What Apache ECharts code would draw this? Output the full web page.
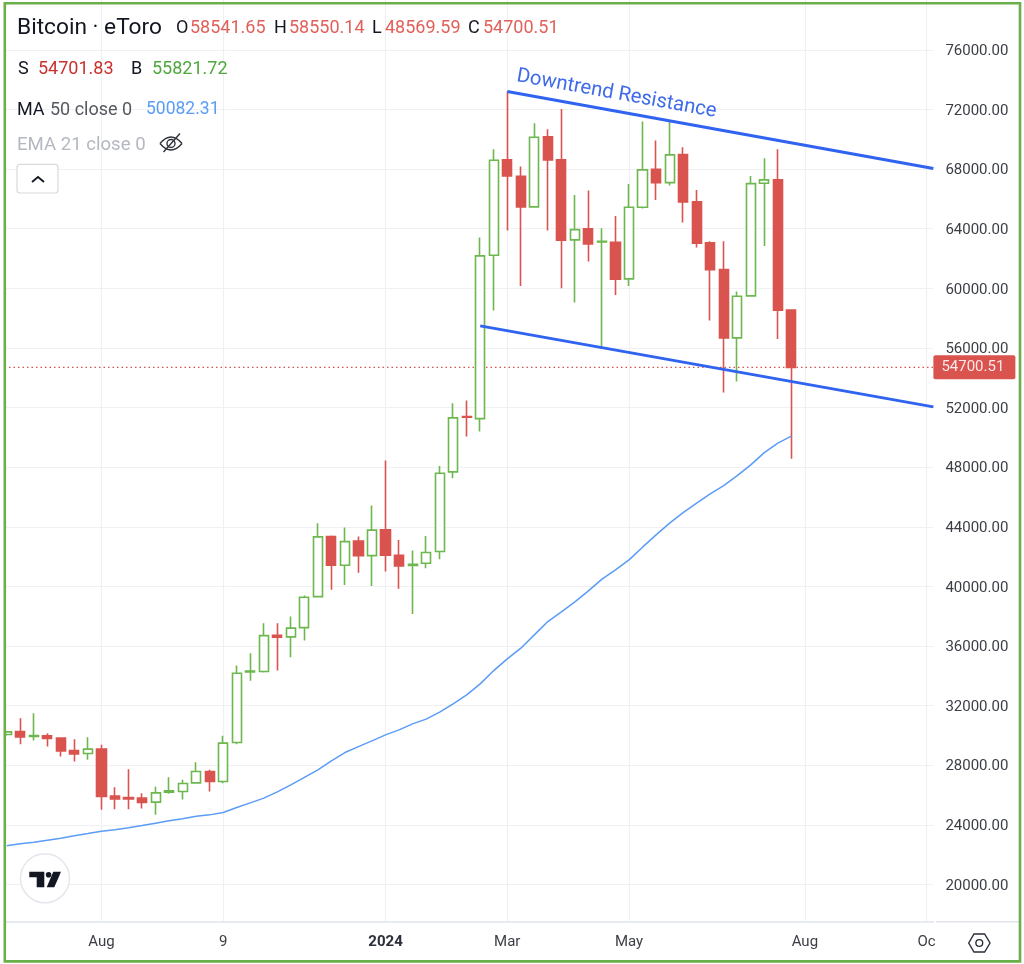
<!DOCTYPE html>
<html>
<head>
<meta charset="utf-8">
<style>html,body{margin:0;padding:0;background:#fff}#c{width:1024px;height:964px}</style>
<script src="https://cdn.jsdelivr.net/npm/echarts@6/dist/echarts.min.js"></script>
</head>
<body>
<div id="c"></div>
<script>
const weeks = ['2023-06-19','2023-06-26','2023-07-03','2023-07-10','2023-07-17','2023-07-24','2023-07-31','2023-08-07','2023-08-14','2023-08-21','2023-08-28','2023-09-04','2023-09-11','2023-09-18','2023-09-25','2023-10-02','2023-10-09','2023-10-16','2023-10-23','2023-10-30','2023-11-06','2023-11-13','2023-11-20','2023-11-27','2023-12-04','2023-12-11','2023-12-18','2023-12-25','2024-01-01','2024-01-08','2024-01-15','2024-01-22','2024-01-29','2024-02-05','2024-02-12','2024-02-19','2024-02-26','2024-03-04','2024-03-11','2024-03-18','2024-03-25','2024-04-01','2024-04-08','2024-04-15','2024-04-22','2024-04-29','2024-05-06','2024-05-13','2024-05-20','2024-05-27','2024-06-03','2024-06-10','2024-06-17','2024-06-24','2024-07-01','2024-07-08','2024-07-15','2024-07-22','2024-07-29','2024-08-05','2024-08-12','2024-08-19','2024-08-26','2024-09-02','2024-09-09','2024-09-16','2024-09-23','2024-09-30','2024-10-07'];
const opens = [30060,30259,29930,29970,29816,28984,28783,29078,25924,25830,25790,25521,26192,26233,26817,27575,26904,29521,34251,34285,36727,36613,37237,39317,43343,41424,43035,42068,43793,42095,41411,41558,42337,47685,51395,51261,62225,68620,67526,65466,70163,68620,63252,63990,63118,63098,60635,65446,67996,67097,68975,65802,63051,61259,56676,59494,67056,67278,58541.65];
const closes = [30240,29903,29990,29789,28964,28762,29078,25897,25743,25743,25495,26146,26280,26770,27575,26904,29480,34177,34318,36700,36593,37197,39277,43323,41424,43008,42068,43773,42095,41377,41478,42270,47597,51308,51355,62178,68600,67546,65466,70143,68620,63232,63943,62983,63165,60615,65446,67949,67097,68955,65802,63030,61259,56676,59474,67030,67278,58535,54700.51];
const lows = [30000,29413,29655,29252,28581,28246,28360,25005,25052,25052,25092,24669,26078,25696,26780,26233,26796,29413,33661,34218,34352,35251,36365,39290,39767,40102,40908,40035,40995,39834,38156,41223,41827,47262,50053,50389,58508,63876,60165,65440,63876,60011,59045,61796,55938,59561,60165,65352,65936,66895,64413,62735,57837,53006,53744,59480,62849,56609,48569.59];
const highs = [30300,31158,31493,30151,29830,29749,29883,29366,26528,27736,26125,26548,27199,27018,28205,27689,29970,34687,35519,37532,37532,37975,39384,44242,43410,43947,43343,45423,48443,43122,42404,43390,48087,52294,52469,63406,69338,73203,68170,71082,70680,72042,66271,66560,64037,64862,67009,71190,69915,71190,69472,66607,63165,63165,59783,67546,68734,69338,58550.14];
const ma50 = [22589,22723,22837,22972,23106,23260,23415,23576,23663,23797,23951,24112,24267,24401,24569,24669,24824,25159,25475,25790,26213,26682,27186,27689,28293,28850,29252,29635,30037,30373,30775,31091,31560,32117,32721,33459,34352,35137,35855,36747,37640,38291,38962,39700,40485,41109,41780,42632,43457,44242,44954,45584,46208,46765,47436,48154,48980,49610,50082.31];
const resistanceLine = [[37,73216],[68.5,68049]];
const supportLine = [[35,57481],[68.5,52046]];
const lastPrice = 54700.51;
const lastPriceLine = [[-0.5,lastPrice],[68.5,lastPrice]];
const priceTicks = [20000,24000,28000,32000,36000,40000,44000,48000,52000,56000,60000,64000,68000,72000,76000];
const timeLabels = {'2023-08-07':'Aug','2023-10-09':'9','2024-01-01':'2024','2024-03-04':'Mar','2024-05-06':'May','2024-08-05':'Aug','2024-10-07':'Oc'};

const RED='#d9534f', GREEN='#6cb84f', BLUE='#5b9cf6', TREND='#2f63f0', INK='#131722', FONT='Roboto, sans-serif';
const isLabelled=(i,v)=>v in timeLabels;
const candles = weeks.slice(0,opens.length).map((w,i)=>[opens[i],closes[i],lows[i],highs[i]]);

function t(text,x,y,size,fill,extra){
  return Object.assign({type:'text',z:100,x:x,y:y,style:{text:text,font:size+'px '+FONT,fill:fill,align:'left',verticalAlign:'middle'}},extra||{});
}
const LRED='#e0605a';
const eye={fill:'none',stroke:'#30333a',lineWidth:1.4};
const chrome = [
  {type:'rect',z:90,shape:{x:0,y:0,width:4,height:964},style:{fill:'#fff'}},
  {type:'rect',z:90,shape:{x:1020,y:0,width:4,height:964},style:{fill:'#fff'}},
  {type:'rect',z:99,shape:{x:4.8,y:3.2,width:1015.2,height:958.2},style:{fill:'none',stroke:'#6ab04a',lineWidth:2.6}},
  {type:'line',z:20,shape:{x1:936,y1:921.7,x2:1019,y2:921.7},style:{stroke:'#e0e3eb',lineWidth:1.6}},
  t('Bitcoin · eToro',17,28,22.7,INK),
  t('O',176,28,18,INK),t('58541.65',190,28,18,LRED),
  t('H',274,28,18,INK),t('58550.14',289,28,18,LRED),
  t('L',372,28,18,INK),t('48569.59',385,28,18,LRED),
  t('C',468,28,18,INK),t('54700.51',483,28,18,LRED),
  t('S',18,69,18,INK),t('54701.83',38,69,18,'#c8322e'),
  t('B',131,69,18,INK),t('55821.72',152,69,18,'#4fa83d'),
  t('MA',17,110,18,INK),t('50 close 0',50,110,18,'#55585f'),t('50082.31',146,110,17.5,BLUE),
  t('EMA 21 close 0',17,145.5,18.6,'#b5b8c0'),
  {type:'bezierCurve',z:100,shape:{x1:160,y1:143.5,x2:182,y2:143.5,cpx1:171,cpy1:130.5},style:eye},
  {type:'bezierCurve',z:100,shape:{x1:160,y1:143.5,x2:182,y2:143.5,cpx1:171,cpy1:156.5},style:eye},
  {type:'circle',z:100,shape:{cx:171,cy:143.5,r:4},style:eye},
  {type:'line',z:100,shape:{x1:163.5,y1:152,x2:180,y2:133.5},style:eye},
  {type:'rect',z:100,shape:{x:17,y:164.3,width:41,height:28.7,r:3},style:{fill:'#fff',stroke:'#d8dade',lineWidth:1.2}},
  {type:'polyline',z:101,shape:{points:[[32,182],[38,177],[44,182]]},style:{fill:'none',stroke:INK,lineWidth:1.8}},
  t('Downtrend Resistance',616.5,94,20.3,'#3f6bea',{rotation:-10.2*Math.PI/180,style:{text:'Downtrend Resistance',font:'20.3px '+FONT,fill:'#3f6bea',align:'center',verticalAlign:'middle'}}),
  {type:'circle',z:100,shape:{cx:45,cy:878.3,r:24.5},style:{fill:'#fff',stroke:'#e6e7ee',lineWidth:1.5}},
  {type:'polygon',z:101,shape:{points:[[29.3,871.7],[44.3,871.7],[44.3,887.3],[36.7,887.3],[36.7,877.3],[29.3,877.3]]},style:{fill:INK}},
  {type:'circle',z:101,shape:{cx:48.6,cy:874.8,r:2.8},style:{fill:INK}},
  {type:'polygon',z:101,shape:{points:[[53.3,871.7],[61,871.7],[54.3,887.3],[46.7,887.3]]},style:{fill:INK}},
  {type:'polygon',z:100,shape:{points:[[968.7,943],[974,934],[984.6,934],[990,943],[984.6,952],[974,952]]},style:{fill:'none',stroke:'#2a2e39',lineWidth:1.4}},
  {type:'circle',z:100,shape:{cx:979.3,cy:943,r:3.4},style:{fill:'none',stroke:'#2a2e39',lineWidth:1.4}}
];

const chart = echarts.init(document.getElementById('c'),null,{renderer:'canvas'});
chart.setOption({
  animation:false,
  backgroundColor:'#fff',
  textStyle:{fontFamily:FONT},
  grid:{left:-1.575,top:0,width:934.95,height:921.7,containLabel:false,show:false},
  xAxis:[
    {type:'category',data:weeks,boundaryGap:true,
     axisLine:{show:true,onZero:false,lineStyle:{color:'#e0e3eb',width:1.6}},
     axisTick:{show:false,alignWithLabel:true,interval:isLabelled},
     splitLine:{show:true,alignWithLabel:true,interval:isLabelled,lineStyle:{color:'#eef0f4',width:1.2}},
     axisLabel:{interval:isLabelled,margin:13,hideOverlap:false,fontFamily:FONT,fontSize:15,color:'#3b3e45',
       formatter:v=>v==='2024-01-01'?'{b|'+timeLabels[v]+'}':(timeLabels[v]||''),
       rich:{b:{fontFamily:FONT,fontSize:15,fontWeight:'bold',color:'#2a2e39'}}}},
    {type:'value',min:-0.5,max:68.5,show:false,splitLine:{show:false}}
  ],
  yAxis:{type:'value',position:'right',min:17500,max:79350,scale:true,
    axisLine:{show:false},
    axisTick:{show:false,customValues:priceTicks},
    splitLine:{show:true,lineStyle:{color:'#f0f1f4',width:1.2}},
    axisLabel:{customValues:priceTicks,margin:12,fontFamily:FONT,fontSize:15,color:'#3b3e45',
      formatter:v=>'{p|'+Number(v).toFixed(2)+'}',
      rich:{p:{fontFamily:FONT,fontSize:15,color:'#3b3e45',lineHeight:18,padding:[3,0,0,0]}}}},
  series:[
    {type:'candlestick',name:'Bitcoin',xAxisIndex:0,yAxisIndex:0,data:candles,barWidth:9.6,z:3,
     itemStyle:{color:'#ffffff',color0:RED,borderColor:GREEN,borderColor0:RED,borderWidth:1.6},
     markLine:{silent:true,symbol:'none',animation:false,precision:2,
       lineStyle:{color:'rgba(0,0,0,0)',width:1},
       label:{show:true,position:'end',distance:0,formatter:()=>lastPrice.toFixed(2),fontFamily:FONT,fontSize:15,color:'#fde8e7',backgroundColor:RED,borderRadius:2,width:66,align:'left',padding:[5,8,4,8]},
       data:[{yAxis:lastPrice}]}},
    {type:'line',name:'Last price',xAxisIndex:1,yAxisIndex:0,data:lastPriceLine,showSymbol:false,symbol:'none',z:2,lineStyle:{color:RED,width:1.4,type:[1.5,3]}},
    {type:'line',name:'MA 50',xAxisIndex:0,yAxisIndex:0,data:ma50,showSymbol:false,symbol:'none',z:4,lineStyle:{color:BLUE,width:1.5}},
    {type:'line',name:'Downtrend Resistance',xAxisIndex:1,yAxisIndex:0,data:resistanceLine,showSymbol:false,symbol:'none',z:5,lineStyle:{color:TREND,width:3}},
    {type:'line',name:'Support',xAxisIndex:1,yAxisIndex:0,data:supportLine,showSymbol:false,symbol:'none',z:5,lineStyle:{color:TREND,width:3}}
  ],
  graphic:{elements:chrome}
});
</script>
</body>
</html>
